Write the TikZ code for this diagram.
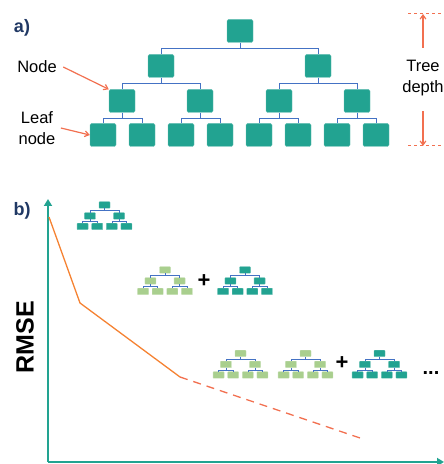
\documentclass[tikz,border=0pt]{standalone}
\usepackage{fontspec}
\setmainfont{Liberation Sans}
\usetikzlibrary{arrows.meta,positioning}

\definecolor{treeteal}{RGB}{34,163,145}
\definecolor{treegreen}{RGB}{169,207,142}
\definecolor{linkblue}{RGB}{68,114,196}
\definecolor{coral}{RGB}{242,112,80}
\definecolor{errorange}{RGB}{245,130,50}
\definecolor{navy}{RGB}{32,56,100}

\tikzset{
  box/.style={fill=treeteal,draw=treeteal!70!white,line width=0.4pt,rounded corners=1.5pt,
    minimum width=26pt,minimum height=23pt,inner sep=0pt},
  mini/.style={fill=#1,draw=#1!70!white,line width=0.3pt,rounded corners=0.6pt,
    minimum width=11pt,minimum height=6.5pt,inner sep=0pt},
  link/.style={draw=linkblue,line width=0.9pt},
  pointer/.style={draw=coral,line width=1.2pt,-{Straight Barb[angle=70:5pt]}},
  label/.style={font=\fontsize{16.5}{21}\selectfont,align=center},
  panel/.style={font=\fontsize{18}{20}\selectfont\bfseries,text=navy},
  pics/minitree/.style={code={
    \node[mini=#1] (-r) at (0,0) {};
    \node[mini=#1] (-a) at (-14.6,-11) {};
    \node[mini=#1] (-b) at (14.6,-11) {};
    \node[mini=#1] (-a1) at (-21.9,-21.5) {};
    \node[mini=#1] (-a2) at (-7.3,-21.5) {};
    \node[mini=#1] (-b1) at (7.3,-21.5) {};
    \node[mini=#1] (-b2) at (21.9,-21.5) {};
    \draw[link,line width=0.5pt] (-r.south) -- ++(0,-2.25) -| (-a.north);
    \draw[link,line width=0.5pt] (-r.south) -- ++(0,-2.25) -| (-b.north);
    \draw[link,line width=0.5pt] (-a.south) -- ++(0,-2) -| (-a1.north);
    \draw[link,line width=0.5pt] (-a.south) -- ++(0,-2) -| (-a2.north);
    \draw[link,line width=0.5pt] (-b.south) -- ++(0,-2) -| (-b1.north);
    \draw[link,line width=0.5pt] (-b.south) -- ++(0,-2) -| (-b2.north);
  }}
}

\begin{document}
\begin{tikzpicture}[x=1pt,y=1pt]
  \useasboundingbox (0,0) rectangle (444,464);

  % a) the tree
  \node[panel] (pa) at (22,436.5) {a)};
  \node[box] (r) at (240,433) {};
  \node[box] (n1) at (161,398) {};
  \node[box] (n2) at (318,398) {};
  \node[box] (n11) at (122,363) {};
  \node[box] (n12) at (200,363) {};
  \node[box] (n21) at (279,363) {};
  \node[box] (n22) at (357,363) {};
  \node[box] (l1) at (103,329) {};
  \node[box] (l2) at (142,329) {};
  \node[box] (l3) at (181,329) {};
  \node[box] (l4) at (220,329) {};
  \node[box] (l5) at (259,329) {};
  \node[box] (l6) at (298,329) {};
  \node[box] (l7) at (337,329) {};
  \node[box] (l8) at (376,329) {};

  \foreach \p/\c in {r/n1,r/n2,n1/n11,n1/n12,n2/n21,n2/n22,
                     n11/l1,n11/l2,n12/l3,n12/l4,n21/l5,n21/l6,n22/l7,n22/l8}
    \draw[link] (\p.south) -- ++(0,-5.5) -| (\c.north);

  \node[label] (nodetxt) at (37,397) {Node};
  \node[label] (leaftxt) at (37,336) {Leaf\\node};
  \draw[pointer] (nodetxt.east) ++(3,0) -- (n11.north west);
  \draw[pointer] (leaftxt.east) ++(2,0) -- (l1.west);

  \node[label] (depth) at (423,386) {Tree\\depth};
  \coordinate (dtop) at (423,450);
  \coordinate (dbot) at (423,318);
  \draw[coral,dashed,line width=1pt] (408,450) -- (446,450);
  \draw[coral,dashed,line width=1pt] (408,318) -- (446,318);
  \draw[pointer] (depth.north) ++(0,9) -- (dtop);
  \draw[pointer] (depth.south) ++(0,-12) -- (dbot);

  % b) error against boosting rounds
  \node[panel] (pb) at (22,253) {b)};
  \coordinate (origin) at (48,2);
  \draw[treeteal,line width=2.6pt,-{Triangle[length=7pt,width=8pt]}] (origin) -- (48,265);
  \draw[treeteal,line width=2.6pt,-{Triangle[length=7pt,width=8pt]}] (origin) -- (444,2);
  \node[font=\fontsize{25}{25}\selectfont\bfseries,rotate=90] (rmse) at (25,127) {RMSE};

  \coordinate (e0) at (49,247);
  \coordinate (e1) at (80,161);
  \coordinate (e2) at (180,87);
  \coordinate (e3) at (363,25);
  \draw[errorange,line width=1.3pt] (e0) -- (e1) -- (e2);
  \draw[coral,line width=1.3pt,dash pattern=on 8pt off 6pt] (e2) -- (e3);

  \pic (t1) at (104.5,259) {minitree=treeteal};
  \pic (t2) at (165,194) {minitree=treegreen};
  \node[font=\fontsize{22}{22}\selectfont\bfseries] (plus1) at (204,183) {+};
  \pic (t3) at (245,194) {minitree=treeteal};
  \pic (t4) at (240.5,110.5) {minitree=treegreen};
  \pic (t5) at (305.5,110.5) {minitree=treegreen};
  \node[font=\fontsize{22}{22}\selectfont\bfseries] (plus2) at (342,101) {+};
  \pic (t6) at (379.5,110.5) {minitree=treeteal};
  \node[font=\fontsize{20}{20}\selectfont\bfseries] (dots) at (431,91) {...};
\end{tikzpicture}
\end{document}
